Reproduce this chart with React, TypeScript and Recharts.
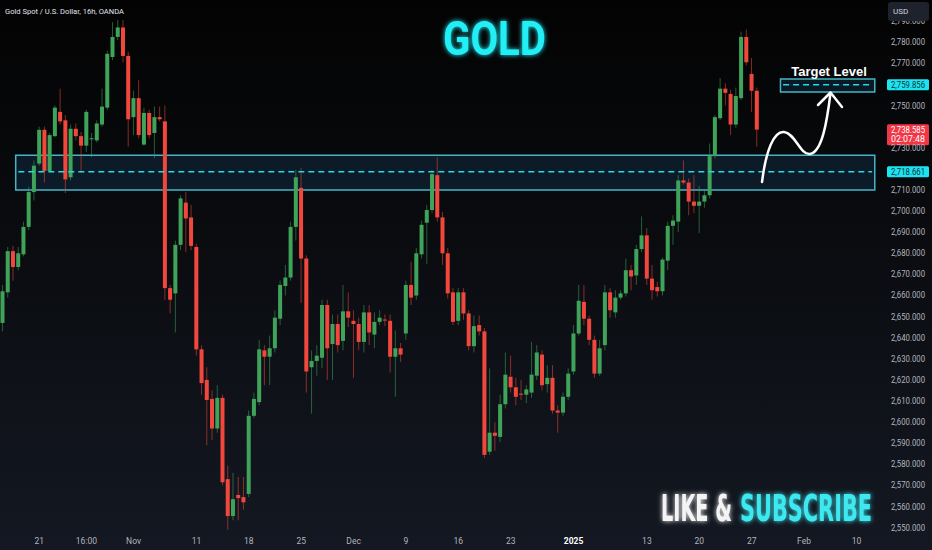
import React from 'react'
import { ComposedChart, Bar, XAxis, YAxis, ReferenceArea, ReferenceLine } from 'recharts'

// 16h candles, Gold Spot / USD
const OPEN = [
  2647, 2661.5, 2681, 2673.5, 2679.5, 2692.5, 2709, 2722.5, 2738.5, 2719,
  2735.5, 2747, 2743, 2716, 2739, 2735.5, 2731, 2734, 2733.5, 2741,
  2749, 2773, 2782.5, 2787, 2773.5, 2744.5, 2753.5, 2731.5, 2746.5, 2737,
  2744.5, 2742.5, 2663.5, 2661, 2684, 2704, 2697, 2683, 2634.5, 2620,
  2611, 2597, 2611.5, 2573, 2555.5, 2565.5, 2564.5, 2566, 2603, 2609.5,
  2634, 2631, 2635, 2649, 2664.5, 2668.5, 2692.5, 2711, 2677.5, 2626,
  2629, 2630.5, 2655.5, 2637, 2646.5, 2638.5, 2652.5, 2648, 2646.5, 2638,
  2652, 2641.5, 2647.5, 2648.6, 2648, 2631, 2635, 2642, 2665, 2660,
  2679.5, 2694.5, 2700.5, 2717, 2697, 2680, 2661.5, 2648, 2661.5, 2651.5,
  2636, 2646, 2643, 2586, 2595, 2593, 2608.5, 2621.5, 2616.5, 2613.5,
  2613, 2614, 2622, 2632, 2618, 2621, 2605.5, 2604.5, 2612, 2624,
  2642, 2657, 2649, 2639, 2623, 2636.5, 2661.5, 2652, 2659, 2661,
  2672, 2669.5, 2682, 2688.5, 2668, 2664, 2662, 2676.5, 2693, 2695,
  2714.5, 2713.5, 2704.5, 2702.5, 2704.5, 2707.5, 2726, 2744, 2758, 2755.5,
  2741, 2753.5, 2782.5, 2765, 2757,
]
const HIGH = [
  2665, 2683, 2683.5, 2683, 2695, 2711.5, 2724, 2740, 2740, 2737,
  2750, 2758, 2745.5, 2741, 2741.5, 2737.5, 2748, 2737, 2743, 2758,
  2776, 2789.5, 2790.5, 2790.5, 2775.5, 2757, 2762, 2749, 2748, 2749.5,
  2749.5, 2750, 2665, 2686, 2707.5, 2709, 2703, 2684.5, 2636.5, 2626,
  2615, 2617.5, 2613, 2579.5, 2576, 2574, 2574, 2605.5, 2614, 2639,
  2636.5, 2641, 2653, 2667, 2674.5, 2695, 2719.5, 2720.5, 2679, 2634,
  2636.5, 2658, 2658, 2651, 2651, 2665, 2661.5, 2653, 2649.5, 2655.5,
  2655.5, 2652, 2653, 2651, 2651, 2643.5, 2637.5, 2667, 2676, 2682.5,
  2695.5, 2703, 2719.5, 2725.5, 2699.5, 2682.5, 2663.5, 2663.5, 2663.5, 2653,
  2650.5, 2650.5, 2644.5, 2625.5, 2600, 2613, 2633, 2631.5, 2621, 2620,
  2617.5, 2638, 2636.5, 2634, 2627, 2627, 2608, 2614, 2625.5, 2646,
  2665, 2665, 2650.5, 2641, 2639, 2665, 2663.5, 2662.5, 2662.5, 2677.5,
  2674.5, 2684, 2697.5, 2692, 2674.5, 2666.5, 2678, 2695, 2698, 2717,
  2724, 2715.5, 2717, 2712, 2710, 2732, 2745.5, 2763, 2760.5, 2757.5,
  2758.5, 2785, 2786, 2772.5, 2758.5,
]
const LOW = [
  2643, 2659, 2667, 2672, 2678.5, 2691, 2705, 2721.5, 2713.5, 2718.5,
  2735, 2741, 2708.5, 2714.5, 2733.5, 2718, 2728, 2725.5, 2732.5, 2740,
  2748, 2771.5, 2781, 2770.5, 2730.5, 2736, 2734.5, 2731, 2734.5, 2725,
  2742.5, 2658, 2651.5, 2642.5, 2681.5, 2680.5, 2681.5, 2631.5, 2613, 2589,
  2591.5, 2595, 2570, 2549, 2553.5, 2553.5, 2558.5, 2564.5, 2602, 2608,
  2617.5, 2617.5, 2633, 2646, 2660, 2667, 2686, 2656.5, 2614, 2604,
  2622, 2625.5, 2620, 2620, 2633, 2634, 2645, 2621, 2634, 2633,
  2636.5, 2635, 2646, 2645.5, 2623.5, 2612, 2628.5, 2639, 2655.5, 2658,
  2677.5, 2675, 2699, 2695, 2674.5, 2658.5, 2646, 2646, 2648.5, 2634,
  2633, 2641, 2583, 2584.5, 2586.5, 2590.5, 2606.5, 2614, 2608, 2610.5,
  2609, 2611.5, 2620, 2615, 2614, 2604, 2595, 2603, 2610.5, 2622.5,
  2641, 2646, 2636.5, 2621, 2622, 2634, 2649.5, 2649.5, 2658, 2659.5,
  2662.5, 2665, 2680.5, 2665, 2658, 2659.5, 2660, 2672, 2684, 2690,
  2712.5, 2698, 2699, 2689.5, 2701.5, 2706, 2725, 2743, 2750, 2736,
  2739.5, 2752.5, 2769, 2747, 2730.5,
]
const CLOSE = [
  2662, 2681, 2673.5, 2680, 2692.5, 2709, 2721.5, 2738.5, 2719, 2736,
  2749, 2742.5, 2715, 2739, 2735.5, 2731, 2747, 2734.5, 2741.5, 2749.5,
  2774.5, 2782.5, 2787, 2773.5, 2743.5, 2753.5, 2736, 2746.5, 2736, 2744.5,
  2743.5, 2663.5, 2658, 2684, 2706, 2696.5, 2683.5, 2634.5, 2618.5, 2610.5,
  2597, 2611.5, 2571.5, 2555.5, 2563.5, 2564, 2562, 2603, 2611, 2634.5,
  2631, 2635, 2649.5, 2665, 2668.5, 2692.5, 2716, 2677.5, 2624, 2629,
  2631.5, 2655.5, 2635, 2646.5, 2636.5, 2652.5, 2649.5, 2646.5, 2638, 2652,
  2642.5, 2647.5, 2649.5, 2648.2, 2631, 2635, 2632, 2665, 2659, 2680,
  2693.5, 2700.5, 2717.5, 2697, 2680, 2661, 2647.5, 2661.5, 2651.5, 2636,
  2645.5, 2643, 2584.5, 2595, 2593.5, 2608.5, 2622.5, 2616.5, 2612, 2613,
  2615.5, 2622.5, 2633, 2617.5, 2621, 2605.5, 2604.5, 2612, 2623, 2642,
  2657.5, 2649, 2639, 2623, 2635, 2661.5, 2653, 2659, 2661, 2672,
  2669, 2682, 2688.5, 2668, 2662.5, 2662, 2677, 2693, 2695.5, 2714.5,
  2713.5, 2704.5, 2702.5, 2704.5, 2707.5, 2726, 2744.5, 2758, 2756, 2741,
  2754.5, 2782.5, 2770.5, 2757, 2738.585,
]

// time axis: bar slots incl. empty future space
const SLOTS = 168
const TICK_INDEX = [7, 16, 25, 37, 47, 57, 67, 77, 87, 97, 109, 123, 133, 143, 153, 163]
const TICK_LABELS = ['21', '16:00', 'Nov', '11', '18', '25', 'Dec', '9', '16', '23', '2025', '13', '20', '27', 'Feb', '10']
const Y_TICKS = [2550, 2560, 2570, 2580, 2590, 2600, 2610, 2620, 2630, 2640, 2650, 2660, 2670, 2680, 2690, 2700, 2710, 2730, 2750, 2770, 2780, 2790]

// levels
const SUPPORT_TOP = 2726.5
const SUPPORT_BOTTOM = 2710
const SUPPORT_LEVEL = 2718.661
const TARGET_TOP = 2762.6
const TARGET_BOTTOM = 2756.4
const TARGET_LEVEL = 2759.856
const LAST_PRICE = 2738.585

const GREEN = '#3fa35a'
const RED = '#f2473c'
const CYAN = '#22dbe9'
const AXIS_TEXT = '#b2b5be'

const rows = Array.from({ length: SLOTS }, (_, i) =>
  i < OPEN.length
    ? { i, o: OPEN[i], h: HIGH[i], l: LOW[i], c: CLOSE[i], range: [LOW[i], HIGH[i]] }
    : { i, range: null }
)

const fmt = (v: number) => v.toLocaleString('en-US', { minimumFractionDigits: 3, maximumFractionDigits: 3 })

const Candle = (props: any) => {
  const { x, y, width, height, payload } = props
  if (payload == null || payload.o == null) return <g />
  const { o, h, l, c } = payload
  const top = Math.min(y, y + height)
  const hh = Math.abs(height)
  const py = (v: number) => top + ((h - v) / (h - l)) * hh
  const cx = x + width / 2
  const color = c >= o ? GREEN : RED
  const b1 = py(Math.max(o, c))
  const b2 = py(Math.min(o, c))
  const bw = 4
  return (
    <g>
      <line x1={cx} x2={cx} y1={top} y2={top + hh} stroke={color} strokeOpacity={0.55} strokeWidth={1} />
      <rect x={cx - bw / 2} y={b1} width={bw} height={Math.max(1, b2 - b1)} fill={color} />
    </g>
  )
}

const XTick = (props: any) => {
  const { x, y, payload } = props
  const k = TICK_INDEX.indexOf(payload.value)
  if (k < 0) return <g />
  const bold = TICK_LABELS[k] === '2025'
  return (
    <text x={x} y={y + 6} textAnchor="middle" fontSize={8.5} fontFamily="Roboto, Arial"
      fontWeight={bold ? 700 : 400} fill={bold ? '#ffffff' : AXIS_TEXT}>
      {TICK_LABELS[k]}
    </text>
  )
}

const YTick = (props: any) => {
  const { y, payload } = props
  return (
    <text x={891} y={y + 3} textAnchor="start" fontSize={8.5} fontFamily="Roboto, Arial" fill={AXIS_TEXT}
      textLength={34} lengthAdjust="spacingAndGlyphs">
      {fmt(payload.value)}
    </text>
  )
}

const badge = (bg: string, fg: string, lines: string[]) => (p: any) => {
  const vb = p.viewBox || {}
  const bx = vb.x + vb.width + 7
  const by = vb.y
  const hgt = lines.length > 1 ? 21 : 11
  return (
    <g>
      <rect x={bx} y={by - 5.5} width={42} height={hgt} rx={1.5} fill={bg} />
      {lines.map((t, k) => (
        <text key={k} x={bx + 21} y={by + 3 + k * 9} textAnchor="middle" fontSize={8.5}
          fontFamily="Roboto, Arial" fill={fg} textLength={34} lengthAdjust="spacingAndGlyphs">{t}</text>
      ))}
    </g>
  )
}

export default function App() {
  return (
    <div style={{
      position: 'absolute', left: 0, top: 0, width: 932, height: 550, overflow: 'hidden',
      background: 'linear-gradient(to bottom, #030303 0%, #0a0c10 45%, #141822 100%)',
    }}>
      <ComposedChart width={932} height={550} data={rows} margin={{ top: 0, right: 0, bottom: 0, left: 0 }}
        barCategoryGap="0%">
        <XAxis dataKey="i" type="category" interval={0} tickLine={false} axisLine={false} height={20} tick={XTick} />
        <YAxis orientation="right" width={52} type="number" domain={[2548.9, 2800]} allowDataOverflow
          ticks={Y_TICKS} interval={0} tickLine={false} axisLine={false} tick={YTick} />
        <ReferenceArea x1={3} x2={166} y1={SUPPORT_BOTTOM} y2={SUPPORT_TOP} fill="#14304a" fillOpacity={0.45}
          stroke="#4cc8d8" strokeWidth={1.5} strokeOpacity={0.9} />
        <ReferenceArea x1={149} x2={166} y1={TARGET_BOTTOM} y2={TARGET_TOP} fill="#14304a" fillOpacity={0.45}
          stroke="#4cc8d8" strokeWidth={1.5} strokeOpacity={0.9} />
        <ReferenceLine segment={[{ x: 3, y: SUPPORT_LEVEL }, { x: 166, y: SUPPORT_LEVEL }]} stroke={CYAN}
          strokeWidth={1.5} strokeDasharray="6 4" />
        <ReferenceLine segment={[{ x: 149, y: TARGET_LEVEL }, { x: 166, y: TARGET_LEVEL }]} stroke={CYAN}
          strokeWidth={1.5} strokeDasharray="6 4" />
        <Bar dataKey="range" shape={Candle} isAnimationActive={false} />
        <ReferenceLine y={TARGET_LEVEL} stroke="none" label={badge('#1ee3f0', '#06323a', [fmt(TARGET_LEVEL)])} />
        <ReferenceLine y={SUPPORT_LEVEL} stroke="none" label={badge('#1ee3f0', '#06323a', [fmt(SUPPORT_LEVEL)])} />
        <ReferenceLine y={LAST_PRICE} stroke="none" label={badge('#f23645', '#ffffff', [fmt(LAST_PRICE), '02:07:48'])} />
      </ComposedChart>

      <svg width={932} height={550} style={{ position: 'absolute', left: 0, top: 0, pointerEvents: 'none' }}>
        <defs>
          <filter id="glow" x="-10%" y="-30%" width="120%" height="160%">
            <feGaussianBlur in="SourceGraphic" stdDeviation="2.5" result="b" />
            <feMerge>
              <feMergeNode in="b" />
              <feMergeNode in="SourceGraphic" />
            </feMerge>
          </filter>
        </defs>
        <text x={5} y={14} fontSize={8} fontFamily="Roboto, Arial" fill="#e0e3eb" textLength={119}
          lengthAdjust="spacingAndGlyphs">Gold Spot / U.S. Dollar, 16h, OANDA</text>
        <rect x={888} y={2} width={41} height={19} rx={3} fill="#1e222d" />
        <text x={893} y={14} fontSize={8} fontFamily="Roboto, Arial" fill="#d1d4dc">USD</text>

        <text x={443} y={55} fontSize={48} fontWeight={700} fontFamily="Roboto, Arial" fill="#20eef5"
          textLength={103} lengthAdjust="spacingAndGlyphs" filter="url(#glow)">GOLD</text>

        <text x={829} y={76} textAnchor="middle" fontSize={13} fontWeight={700} fontFamily="Liberation Sans, Arial"
          fill="#ffffff">Target Level</text>

        <path d="M 762 182 C 766 150, 774 131, 784 132 C 795 133, 800 155, 810 154 C 822 152, 827 122, 830.5 93"
          fill="none" stroke="#ffffff" strokeWidth={2.5} strokeLinecap="round" />
        <path d="M 818 105 L 830.5 92.5 L 842 107" fill="none" stroke="#ffffff" strokeWidth={2.5}
          strokeLinecap="round" strokeLinejoin="round" />

        <text x={661} y={521} fontSize={37} fontWeight={700} fontFamily="DejaVu Sans Condensed, DejaVu Sans"
          fill="#f4f4f4" textLength={71} lengthAdjust="spacingAndGlyphs" filter="url(#glow)">LIKE &amp;</text>
        <text x={740} y={521} fontSize={37} fontWeight={700} fontFamily="DejaVu Sans Condensed, DejaVu Sans"
          fill="#3ee8f0" textLength={132} lengthAdjust="spacingAndGlyphs" filter="url(#glow)">SUBSCRIBE</text>
      </svg>
    </div>
  )
}
